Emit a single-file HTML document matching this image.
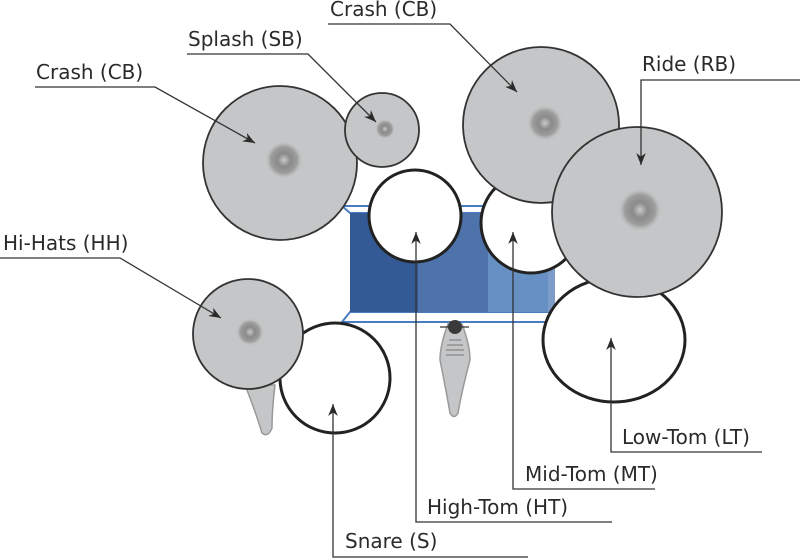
<!DOCTYPE html>
<html><head><meta charset="utf-8"><style>
html,body{margin:0;padding:0;background:#fff;width:800px;height:560px;overflow:hidden}
text{font-family:"DejaVu Sans","Liberation Sans",sans-serif;font-size:20px;fill:#2a2a2a}
</style></head><body>
<svg width="800" height="560" viewBox="0 0 800 560">
<defs>
<radialGradient id="bell" cx="50%" cy="50%" r="50%">
<stop offset="0" stop-color="#c8c8c8"/><stop offset="0.35" stop-color="#8a8a8a"/><stop offset="0.7" stop-color="#9d9d9d"/><stop offset="1" stop-color="#c4c6c7" stop-opacity="0"/>
</radialGradient>
<marker id="ah" viewBox="0 0 10 10" refX="10" refY="5" markerWidth="12" markerHeight="12" markerUnits="userSpaceOnUse" orient="auto"><path d="M0,1 L10,5 L0,9 L3,5 z" fill="#2a2a2a"/></marker>
</defs>
<!-- bass drum box -->
<g>
<path d="M342,206 L350,213 L555,213 L555,206 Z" fill="#fff" stroke="#4a7cc0" stroke-width="2"/>
<path d="M342,322 L350,312 L555,312 L555,322 Z" fill="#fff" stroke="#4a7cc0" stroke-width="2"/>
<rect x="350" y="213" width="68" height="99" fill="#335a94"/>
<rect x="418" y="213" width="70" height="99" fill="#4d73aa"/>
<rect x="488" y="213" width="60" height="99" fill="#6690c4"/>
<rect x="548" y="213" width="7" height="99" fill="#7d9dc8"/>
</g>
<!-- pedals -->
<path d="M448,324 L462,324 Q470,345 470,360 Q462,390 458,413 Q454,420 450,413 Q446,390 440,360 Q440,345 448,324 Z" fill="#c4c6c7" stroke="#999" stroke-width="1.5"/>
<g stroke="#777" stroke-width="1"><line x1="449" y1="340" x2="461" y2="340"/><line x1="447" y1="345" x2="463" y2="345"/><line x1="446" y1="350" x2="464" y2="350"/><line x1="446" y1="355" x2="464" y2="355"/></g>
<line x1="440" y1="327" x2="469" y2="327" stroke="#333" stroke-width="1.2"/>
<circle cx="455" cy="327" r="7" fill="#3a3a3a"/>
<path d="M245,385 L275,385 Q272,410 272,428 Q268,438 262,433 Q255,410 245,385 Z" fill="#c4c6c7" stroke="#999" stroke-width="1.5"/>
<!-- drums -->
<circle cx="335" cy="378" r="55" fill="#fff" stroke="#222" stroke-width="3"/>
<circle cx="415" cy="216" r="46" fill="#fff" stroke="#222" stroke-width="3"/>
<circle cx="531" cy="223" r="50" fill="#fff" stroke="#222" stroke-width="3"/>
<ellipse cx="614" cy="340" rx="71" ry="62" fill="#fff" stroke="#222" stroke-width="3"/>
<!-- cymbals -->
<g><circle cx="248" cy="334" r="55" fill="#c4c6c7" stroke="#333" stroke-width="1.8"/><circle cx="250" cy="332" r="14" fill="url(#bell)"/></g>
<g><circle cx="280" cy="163" r="77" fill="#c4c6c7" stroke="#333" stroke-width="1.8"/><circle cx="284" cy="160" r="19" fill="url(#bell)"/></g>
<g><circle cx="382" cy="130" r="37" fill="#c4c6c7" stroke="#333" stroke-width="1.8"/><circle cx="385" cy="129" r="10" fill="url(#bell)"/></g>
<g><circle cx="541" cy="125" r="78" fill="#c4c6c7" stroke="#333" stroke-width="1.8"/><circle cx="545" cy="123" r="18" fill="url(#bell)"/></g>
<g><circle cx="637" cy="212" r="85" fill="#c4c6c7" stroke="#333" stroke-width="1.8"/><circle cx="640" cy="210" r="22" fill="url(#bell)"/></g>
<!-- leaders -->
<g fill="none" stroke="#333" stroke-width="1.3">
<polyline points="35,87 155,87 255,143" marker-end="url(#ah)"/>
<polyline points="187,54 308,54 376,122" marker-end="url(#ah)"/>
<polyline points="328,24 450,24 517,92" marker-end="url(#ah)"/>
<polyline points="800,80 641,80 641,165" marker-end="url(#ah)"/>
<polyline points="0,258 120,258 221,318" marker-end="url(#ah)"/>
<polyline points="528,557 333,557 333,404" marker-end="url(#ah)"/>
<polyline points="612,522 416,522 416,232" marker-end="url(#ah)"/>
<polyline points="655,489 513,489 513,232" marker-end="url(#ah)"/>
<polyline points="762,452 611,452 611,338" marker-end="url(#ah)"/>
</g>
<text x="36" y="79">Crash (CB)</text>
<text x="188" y="46">Splash (SB)</text>
<text x="330" y="16">Crash (CB)</text>
<text x="642" y="71">Ride (RB)</text>
<text x="3" y="250">Hi-Hats (HH)</text>
<text x="345" y="548">Snare (S)</text>
<text x="427" y="514">High-Tom (HT)</text>
<text x="525" y="481">Mid-Tom (MT)</text>
<text x="622" y="444">Low-Tom (LT)</text>
</svg>
</body></html>
